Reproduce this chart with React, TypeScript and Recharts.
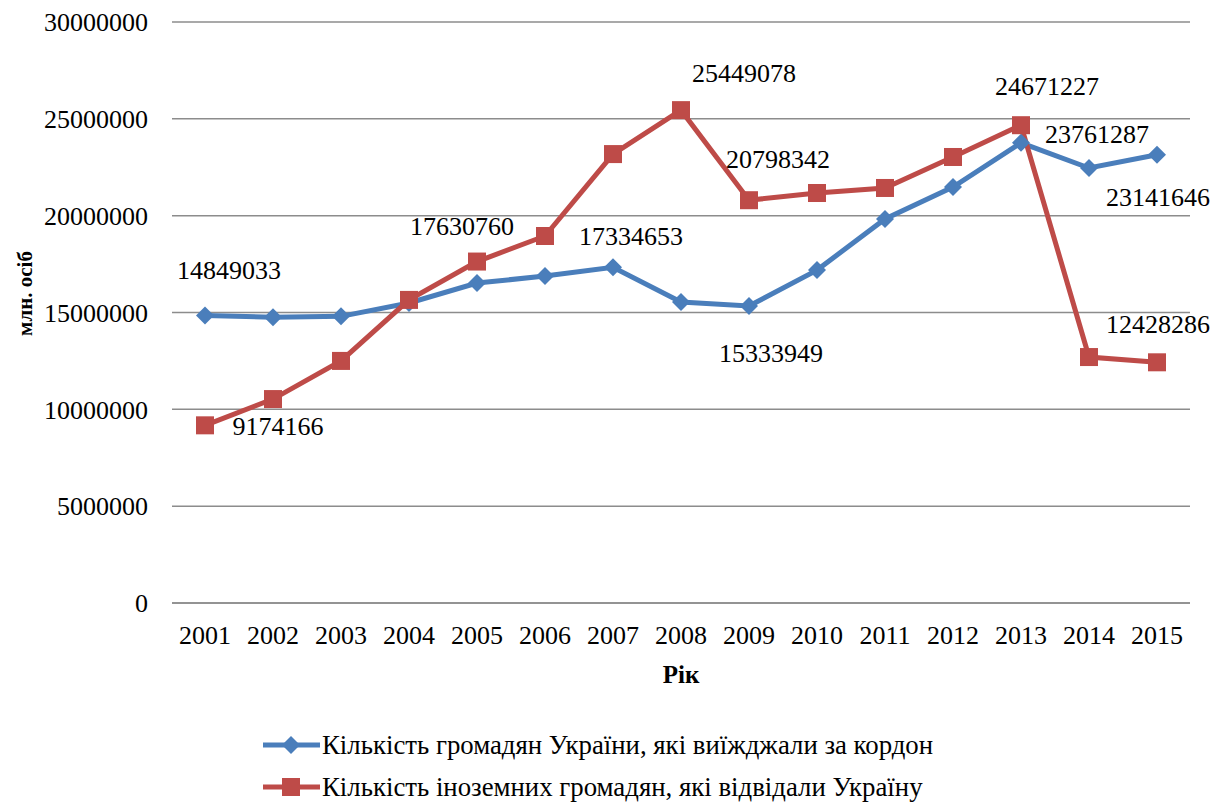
import React from 'react';
import { LineChart, Line, XAxis, YAxis, CartesianGrid, LabelList, Label } from 'recharts';

document.body.style.margin = '0';

const years = ['2001', '2002', '2003', '2004', '2005', '2006', '2007', '2008', '2009', '2010', '2011', '2012', '2013', '2014', '2015'];
const outbound = [14849033, 14750000, 14800000, 15490000, 16520000, 16880000, 17334653, 15540000, 15333949, 17190000, 19830000, 21480000, 23761287, 22460000, 23141646];
const inbound = [9174166, 10530000, 12500000, 15650000, 17630760, 18950000, 23180000, 25449078, 20798342, 21170000, 21430000, 23030000, 24671227, 12700000, 12428286];
const yTicks = [0, 5000000, 10000000, 15000000, 20000000, 25000000, 30000000];

const outboundName = 'Кількість громадян України, які виїжджали за кордон';
const inboundName = 'Кількість іноземних громадян, які відвідали Україну';

// which points carry a value label, and where the label sits relative to the point
const outboundLabelPos: Record<number, [number, number]> = {
    0: [24, -45], 6: [18, -31], 8: [22, 47], 12: [76, -9], 14: [1, 42]
};
const inboundLabelPos: Record<number, [number, number]> = {
    0: [73, 1], 4: [-15, -36], 7: [63, -37], 8: [29, -41], 12: [26, -39], 14: [1, -38]
};

const BLUE = '#4A7EBB';
const RED = '#BE4B48';
const FONT = 'Liberation Serif, serif';

const data = years.map((year, i) => ({ year, outbound: outbound[i], inbound: inbound[i] }));

const Diamond = (props: any) => {
    const { cx, cy } = props;
    if (cx == null || cy == null) return null;
    const r = 9;
    return <polygon points={`${cx},${cy - r} ${cx + r},${cy} ${cx},${cy + r} ${cx - r},${cy}`} fill={BLUE} />;
};

const Square = (props: any) => {
    const { cx, cy } = props;
    if (cx == null || cy == null) return null;
    return <rect x={cx - 9} y={cy - 9} width={18} height={18} fill={RED} />;
};

const makeLabel = (pos: Record<number, [number, number]>) => (props: any) => {
    const { x, y, index, value } = props;
    const off = pos[index];
    if (!off) return null;
    return (
        <text x={x + off[0]} y={y + off[1] + 9} textAnchor="middle" fontSize={26} fontFamily={FONT} fill="#000">
            {value}
        </text>
    );
};

const LegendItem = ({ color, marker, name }: { color: string; marker: 'diamond' | 'square'; name: string }) => (
    <div style={{ display: 'flex', alignItems: 'center', height: 42 }}>
        <svg width={59} height={24}>
            <line x1={0} y1={12} x2={57} y2={12} stroke={color} strokeWidth={5} />
            {marker === 'diamond'
                ? <polygon points="28,3 37,12 28,21 19,12" fill={color} />
                : <rect x={19} y={3} width={18} height={18} fill={color} />}
        </svg>
        <span style={{ fontFamily: FONT, fontSize: 26.8, color: '#000', whiteSpace: 'nowrap' }}>{name}</span>
    </div>
);

export default function App() {
    return (
        <div style={{ position: 'relative', width: 1227, height: 802, background: '#fff' }}>
            <LineChart width={1227} height={700} data={data} margin={{ top: 22, right: 37, left: 0, bottom: 0 }}>
                <CartesianGrid vertical={false} stroke="#8c8c8c" strokeWidth={1.5} />
                <XAxis
                    dataKey="year"
                    height={97}
                    padding={{ left: 33, right: 33 }}
                    axisLine={{ stroke: '#8c8c8c', strokeWidth: 1.5 }}
                    tickLine={false}
                    tickSize={0}
                    tickMargin={23}
                    interval={0}
                    tick={{ fontSize: 26, fontFamily: FONT, fill: '#000' }}
                >
                    <Label
                        content={(p: any) => (
                            <text x={p.viewBox.x + p.viewBox.width / 2} y={p.viewBox.y + 80} textAnchor="middle" fontSize={25} fontWeight="bold" fontFamily={FONT} fill="#000">
                                Рік
                            </text>
                        )}
                    />
                </XAxis>
                <YAxis
                    width={172}
                    domain={[0, 30000000]}
                    ticks={yTicks}
                    axisLine={false}
                    tickLine={false}
                    tickSize={0}
                    tickMargin={24}
                    tick={{ fontSize: 26, fontFamily: FONT, fill: '#000' }}
                >
                    <Label
                        content={(p: any) => {
                            const cx = 32;
                            const cy = p.viewBox.y + p.viewBox.height / 2 - 19;
                            return (
                                <text x={cx} y={cy} transform={`rotate(-90 ${cx} ${cy})`} textAnchor="middle" fontSize={21} fontWeight="bold" fontFamily={FONT} fill="#000">
                                    млн. осіб
                                </text>
                            );
                        }}
                    />
                </YAxis>
                <Line dataKey="outbound" name={outboundName} stroke={BLUE} strokeWidth={5} dot={<Diamond />} activeDot={false} isAnimationActive={false}>
                    <LabelList dataKey="outbound" content={makeLabel(outboundLabelPos)} />
                </Line>
                <Line dataKey="inbound" name={inboundName} stroke={RED} strokeWidth={5} dot={<Square />} activeDot={false} isAnimationActive={false}>
                    <LabelList dataKey="inbound" content={makeLabel(inboundLabelPos)} />
                </Line>
            </LineChart>
            <div style={{ position: 'absolute', left: 263, top: 724 }}>
                <LegendItem color={BLUE} marker="diamond" name={outboundName} />
                <LegendItem color={RED} marker="square" name={inboundName} />
            </div>
        </div>
    );
}
